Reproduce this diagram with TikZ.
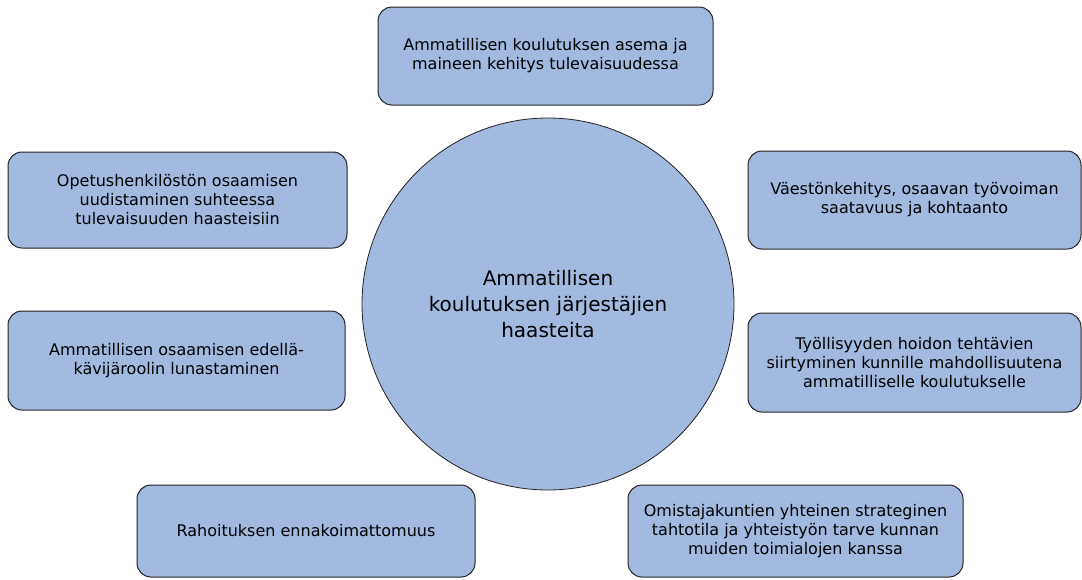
\documentclass[tikz,border=0pt]{standalone}
\usepackage{fontspec}
\setmainfont{DejaVu Sans}
\usetikzlibrary{positioning}
\definecolor{boxblue}{RGB}{162,185,224}
\definecolor{edgegray}{RGB}{35,35,35}
\tikzset{
  block/.style={rectangle, rounded corners=14pt, draw=edgegray, fill=boxblue,
    line width=1pt, align=center, inner sep=0pt,
    font=\fontsize{16}{19}\selectfont},
  hub/.style={circle, draw=edgegray, fill=boxblue, line width=0.8pt,
    minimum size=372pt, align=center, inner sep=0pt,
    font=\fontsize{20}{26}\selectfont},
}

\begin{document}
\begin{tikzpicture}[x=1pt, y=-1pt]
  \useasboundingbox (0,0) rectangle (1082,579);

  \node[hub] (hub) at (548,304)
    {Ammatillisen\\koulutuksen järjestäjien\\haasteita};

  \node[block, minimum width=335pt, minimum height=98pt]
    (asema) at (545.5,56)
    {Ammatillisen koulutuksen asema ja\\maineen kehitys tulevaisuudessa};

  \node[block, minimum width=339pt, minimum height=96pt]
    (henkilosto) at (177.5,200)
    {Opetushenkilöstön osaamisen\\uudistaminen suhteessa\\tulevaisuuden haasteisiin};

  \node[block, minimum width=333pt, minimum height=98pt]
    (vaesto) at (914.5,200)
    {Väestönkehitys, osaavan työvoiman\\saatavuus ja kohtaanto};

  \node[block, minimum width=337pt, minimum height=99pt]
    (edellakavija) at (176.5,360.5)
    {Ammatillisen osaamisen edellä-\\kävijäroolin lunastaminen};

  \node[block, minimum width=333pt, minimum height=99pt]
    (tyollisyys) at (914.5,362.5)
    {Työllisyyden hoidon tehtävien\\siirtyminen kunnille mahdollisuutena\\ammatilliselle koulutukselle};

  \node[block, minimum width=338pt, minimum height=92pt]
    (rahoitus) at (306,531)
    {Rahoituksen ennakoimattomuus};

  \node[block, minimum width=335pt, minimum height=92pt]
    (omistajat) at (795.5,531)
    {Omistajakuntien yhteinen strateginen\\tahtotila ja yhteistyön tarve kunnan\\muiden toimialojen kanssa};
\end{tikzpicture}
\end{document}
